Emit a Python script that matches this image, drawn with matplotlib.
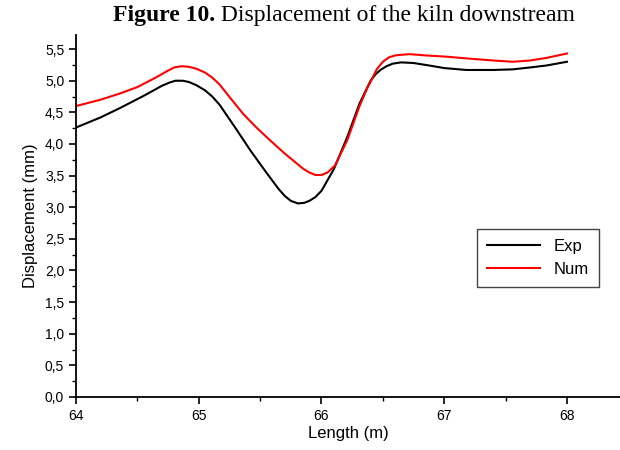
import matplotlib.pyplot as plt
from matplotlib.ticker import MultipleLocator, FuncFormatter

# valores
exp_x = [64.00, 64.20, 64.36, 64.55, 64.70, 64.76, 64.81, 64.87, 64.92, 64.98, 65.05,
         65.11, 65.17, 65.30, 65.42, 65.55, 65.65, 65.70, 65.75, 65.81, 65.86, 65.90,
         65.95, 66.00, 66.10, 66.21, 66.31, 66.40, 66.44, 66.48, 66.53, 66.58, 66.65,
         66.75, 66.88, 67.00, 67.18, 67.40, 67.56, 67.70, 67.83, 68.00]
exp_y = [4.26, 4.42, 4.57, 4.76, 4.92, 4.97, 5.00, 5.00, 4.98, 4.93, 4.85,
         4.75, 4.62, 4.25, 3.90, 3.55, 3.29, 3.18, 3.10, 3.06, 3.07, 3.10,
         3.16, 3.26, 3.60, 4.11, 4.64, 5.00, 5.10, 5.17, 5.23, 5.27, 5.29,
         5.28, 5.24, 5.20, 5.17, 5.17, 5.18, 5.21, 5.24, 5.30]

num_x = [64.00, 64.20, 64.36, 64.50, 64.65, 64.74, 64.80, 64.86, 64.92, 64.98, 65.05,
         65.11, 65.17, 65.26, 65.36, 65.47, 65.58, 65.70, 65.80, 65.85, 65.90, 65.95,
         66.00, 66.05, 66.11, 66.21, 66.31, 66.37, 66.45, 66.50, 66.55, 66.60, 66.65,
         66.72, 66.85, 67.02, 67.20, 67.40, 67.56, 67.70, 67.83, 68.00]
num_y = [4.60, 4.70, 4.80, 4.90, 5.05, 5.15, 5.21, 5.23, 5.22, 5.19, 5.13,
         5.05, 4.94, 4.72, 4.48, 4.26, 4.06, 3.85, 3.69, 3.61, 3.55, 3.51,
         3.51, 3.55, 3.66, 4.06, 4.60, 4.87, 5.18, 5.30, 5.37, 5.40, 5.41,
         5.42, 5.40, 5.38, 5.35, 5.32, 5.30, 5.32, 5.36, 5.43]

plt.rcParams['font.family'] = 'Liberation Sans'

fig = plt.figure(figsize=(6.2, 4.5), dpi=100)
ax = fig.add_axes([0.1226, 0.1178, 0.877, 0.804])

ax.plot(exp_x, exp_y, color='black', lw=1.5, label='Exp')
ax.plot(num_x, num_y, color='red', lw=1.5, label='Num')

ax.set_xlim(64, 68.43)
ax.set_ylim(0, 5.72)

ax.spines['top'].set_visible(False)
ax.spines['right'].set_visible(False)
ax.spines['left'].set_linewidth(1.3)
ax.spines['bottom'].set_linewidth(1.3)

ax.xaxis.set_major_locator(MultipleLocator(1))
ax.xaxis.set_minor_locator(MultipleLocator(0.5))
ax.yaxis.set_major_locator(MultipleLocator(0.5))
ax.yaxis.set_minor_locator(MultipleLocator(0.25))
ax.yaxis.set_major_formatter(FuncFormatter(lambda v, p: f"{v:.1f}".replace('.', ',')))
ax.tick_params(which='major', direction='out', length=5, width=1.2, labelsize=10, colors='black')
ax.tick_params(which='minor', direction='out', length=3, width=1.0)

ax.set_xlabel('Length (m)', fontsize=12, labelpad=2)
ax.set_ylabel('Displacement (mm)', fontsize=12, labelpad=5)

leg = ax.legend(loc='upper left', bbox_to_anchor=(0.7375, 0.464), fontsize=12,
                fancybox=False, edgecolor='#444444', framealpha=1, borderaxespad=0,
                handlelength=3.2, borderpad=0.6, labelspacing=0.45)
leg.get_frame().set_linewidth(1.0)

# título com parte em negrito
t1 = fig.text(0.182, 0.953, 'Figure 10.', fontsize=17, fontweight='bold',
              family='Liberation Serif', va='baseline')
ax.annotate(' Displacement of the kiln downstream', xy=(1, 0), xycoords=t1,
            fontsize=17, family='Liberation Serif', va='bottom')

plt.savefig('out.png', dpi=100)
